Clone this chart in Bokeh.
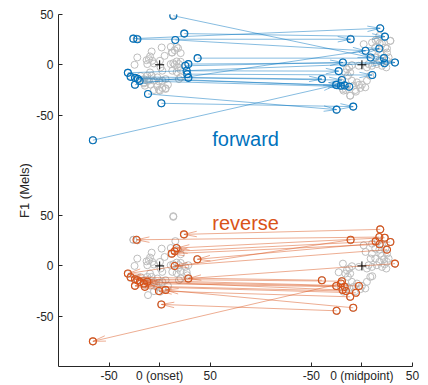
import numpy as np
from bokeh.plotting import figure
from bokeh.models import Range1d, FixedTicker
from bokeh.core.properties import value
from bokeh.embed import file_html
from bokeh.resources import INLINE

# ---- layout constants (data offsets of the two groups / panels)
MID_X = 200      # x offset of the "midpoint" group
FWD_Y = 200      # y offset of the "forward" panel

# ---- forward trials: onset -> midpoint
fwd_on_x = [13.5, 24.4, -26, -22, 15.5, 37.6, 28.4, 25.4, 26.7, 27.4, 28.4, -31.4, -28.7, -24.4, -21.5, -19.8, -24.4, -11.5, 1.7, -66]
fwd_on_y = [48.8, 31, 26, 25.4, 24.7, 6.6, 0.7, -1, -6, -9.3, -13, -8, -12, -13, -14, -16, -19.8, -29, -38.3, -75]
fwd_mid_x = [8.6, 22.8, 18.1, -11.2, 3.6, 21.8, 32.7, -18.8, -23, 10.2, -19.8, 22.4, -39.6, -20.8, -17.1, -12.5, 17.2, -25, -8.6, -25.4]
fwd_mid_y = [7.3, 28, 36.3, 25.4, 13.9, 6.6, 2.3, 2.3, -6.3, -10.2, -15.2, 1.6, -14.2, -20.8, -20.5, -21.8, 16.2, -44.6, -41.6, -20]

# ---- reverse trials: midpoint -> onset
rev_mid_x = [18.1, 17.2, 22.5, 13.6, 17.5, 28.1, 24.8, -11.2, 32.7, -39.6, -19.8, -3, -25.4, -17.1, -19.1, -15.8, -5.9, -11.6, -25, -8.6, -20.8]
rev_mid_y = [36.3, 28.7, 28, 24.4, 21.5, 23.8, 16.2, 26, 2.3, -14.2, -15.2, -20, -20, -20.8, -24, -25, -26.7, -30.7, -44.6, -41.6, -17.5]
rev_on_x = [24, -22.8, 16.8, 14.9, 11.9, 37.3, 14.9, -31.4, 28.4, -28.7, -24.4, -22, -19.5, -15.5, -12.2, -24.4, -14.6, -0.7, 1.7, 5.9, -66]
rev_on_y = [31.4, 26, 17.8, 14.5, 12.2, 6.6, 0, -7.6, -12.5, -11.2, -13.2, -14.2, -15.8, -17.5, -15.8, -19.8, -20.8, -25, -38.3, -24, -75]

# ---- other trials (gray background)
oth_on_x = [2, 11, 18.2, 12.5, 20.8, 4.9, -7.9, -9.5, -12.9, -22.1, -24.8, -10.6, -7.3, -12.2, -5.6, 0.3, 10.9, 13.5, 16.8, 19.1, 20.8, 18.2, 20.8, 16.8, 12.5, 0.9, 2.6, -18.8, -15.5, -12.2, -7.9, -10.6, -5.6, -0.7, 2.6, 5.9, -15.5, -8.9, -2.3, 2.6, 5.9, 0.3, -5.6, 20.8, 19.1, 8.2, -2.3, -9.5, 13.5, -26]
oth_on_y = [17.2, 17.8, 16.5, 12.2, 11.6, 8.9, 13.2, 8.3, 4.6, 7.3, 0, 5.6, 4, 0.7, 1.3, 4, 0.7, 1.6, 3.3, 0.7, 3, -2.6, -5.2, -7.2, -5.9, -2.6, -5.9, -11.2, -14.2, -10.9, -10.9, -15.8, -15.8, -16.5, -15.8, -14.2, -18.5, -19.8, -21.1, -23.1, -23.4, -25.7, -25.1, -12.5, -14.2, -19.8, -12.5, -7.6, 49.5, 26]
oth_mid_x = [1.7, 10, 15.8, 19.8, 23.1, 28.1, 13.2, 18.2, 24.8, 9.9, 13.2, 17.2, 19.8, 24.8, 26.4, 24.1, 19.8, 14.8, 9.9, 4.9, -3.1, -9.9, -12.5, -14.9, -16.5, -11.6, -13.9, -9.9, -4.9, 0, 4.9, 8.3, 3.3, -1.6, -6.6, -11.6, -18.2, -14.9, -8.3, 6.6]
oth_mid_y = [20.5, 22.1, 24.4, 21.1, 17.2, 23.8, 17.2, 12.2, 12.2, 12.2, 7.3, 4, 9.9, 4, 7.3, -2.6, -1, 0.7, -1, -2.6, -1, -0.3, -2.6, -4.3, -7.6, -7.6, -10.9, -15.8, -17.5, -19.8, -15.8, -10.9, -22.4, -23.1, -25.1, -30.7, -25.7, -20.8, -20.8, 0.7]

# ---- texts
x_tick_vals = [-50, 0, 50, MID_X - 50, MID_X, MID_X + 50]
x_tick_text = ["-50", "0 (onset)", "50", "-50", "0 (midpoint)", "50"]
y_tick_vals = [-50, 0, 50, FWD_Y - 50, FWD_Y, FWD_Y + 50]
y_tick_text = ["-50", "0", "50", "-50", "0", "50"]

BLUE = "#0072BD"
ORANGE = "#D95319"
GRAY = "#BEBEBE"
AX = "#262626"
FONT = "Liberation Sans"

p = figure(width=428, height=385, x_range=Range1d(-100, 250), y_range=Range1d(-100, 250),
           output_backend="svg", toolbar_location=None,
           min_border_left=58, min_border_right=16, min_border_top=14, min_border_bottom=16)
p.outline_line_color = None
p.xgrid.visible = False
p.ygrid.visible = False
p.background_fill_color = "white"
p.border_fill_color = "white"

for ax in (p.xaxis[0], p.yaxis[0]):
    ax.axis_line_color = AX
    ax.axis_line_width = 1
    ax.major_tick_line_color = AX
    ax.major_tick_in = 4
    ax.major_tick_out = 0
    ax.minor_tick_line_color = None
    ax.major_label_text_color = AX
    ax.major_label_text_font = FONT
    ax.major_label_text_font_size = "12px"
    ax.major_label_standoff = 5
p.xaxis.major_label_standoff = 2
p.xaxis.major_label_text_line_height = 0.9

p.xaxis.ticker = FixedTicker(ticks=x_tick_vals)
p.xaxis.major_label_overrides = {v: t for v, t in zip(x_tick_vals, x_tick_text)}
p.yaxis.ticker = FixedTicker(ticks=y_tick_vals)
p.yaxis.major_label_overrides = {v: t for v, t in zip(y_tick_vals, y_tick_text)}
p.yaxis.axis_label = "F1 (Mels)"
p.yaxis.axis_label_text_font = FONT
p.yaxis.axis_label_text_font_size = "13px"
p.yaxis.axis_label_text_font_style = "normal"
p.yaxis.axis_label_text_color = AX
p.yaxis.axis_label_standoff = 1


def arrays(x, y, dx=0.0, dy=0.0):
    return np.asarray(x, float) + dx, np.asarray(y, float) + dy


def heads(x0, y0, x1, y1, L=13.0, ang=np.deg2rad(12)):
    d = np.arctan2(y1 - y0, x1 - x0)
    hx, hy, tx, ty = [], [], [], []
    for s in (1, -1):
        a = d + np.pi + s * ang
        hx.append(x1 + L * np.cos(a)); hy.append(y1 + L * np.sin(a))
        tx.append(x1); ty.append(y1)
    return np.concatenate(tx), np.concatenate(ty), np.concatenate(hx), np.concatenate(hy)


# gray background: all trials, drawn in both panels
all_on_x = oth_on_x + fwd_on_x + rev_on_x
all_on_y = oth_on_y + fwd_on_y + rev_on_y
all_mid_x = oth_mid_x + fwd_mid_x + rev_mid_x
all_mid_y = oth_mid_y + fwd_mid_y + rev_mid_y
for off in (0, FWD_Y):
    gx, gy = arrays(all_on_x, all_on_y, 0, off)
    p.scatter(gx, gy, marker="circle", size=7, fill_color=None, line_color=GRAY, line_width=1)
    gx, gy = arrays(all_mid_x, all_mid_y, MID_X, off)
    p.scatter(gx, gy, marker="circle", size=7, fill_color=None, line_color=GRAY, line_width=1)

# forward arrows (top panel)
sx, sy = arrays(fwd_on_x, fwd_on_y, 0, FWD_Y)
ex, ey = arrays(fwd_mid_x, fwd_mid_y, MID_X, FWD_Y)
p.segment(sx, sy, ex, ey, line_color=BLUE, line_width=0.8, line_alpha=0.6)
a, b, c, d = heads(sx, sy, ex, ey)
p.segment(a, b, c, d, line_color=BLUE, line_width=0.8, line_alpha=0.6)
p.scatter(np.concatenate([sx, ex]), np.concatenate([sy, ey]), marker="circle", size=7,
          fill_color=None, line_color=BLUE, line_width=1.1)

# reverse arrows (bottom panel)
sx, sy = arrays(rev_mid_x, rev_mid_y, MID_X, 0)
ex, ey = arrays(rev_on_x, rev_on_y, 0, 0)
p.segment(sx, sy, ex, ey, line_color=ORANGE, line_width=0.8, line_alpha=0.6)
a, b, c, d = heads(sx, sy, ex, ey)
p.segment(a, b, c, d, line_color=ORANGE, line_width=0.8, line_alpha=0.6)
p.scatter(np.concatenate([sx, ex]), np.concatenate([sy, ey]), marker="circle", size=7,
          fill_color=None, line_color=ORANGE, line_width=1.1)

# centre crosses
p.scatter([0, MID_X, 0, MID_X], [0, 0, FWD_Y, FWD_Y], marker="cross", size=9,
          line_color="black", line_width=1)

# panel labels
p.text(x=[85], y=[FWD_Y - 73.6], text=["forward"], text_color=BLUE, text_font=value(FONT),
       text_font_size="20px", text_align="center", text_baseline="alphabetic")
p.text(x=[85], y=[42.9], text=["reverse"], text_color=ORANGE, text_font=value(FONT),
       text_font_size="20px", text_align="center", text_baseline="alphabetic")

open("out.html", "w").write(file_html(p, INLINE))
